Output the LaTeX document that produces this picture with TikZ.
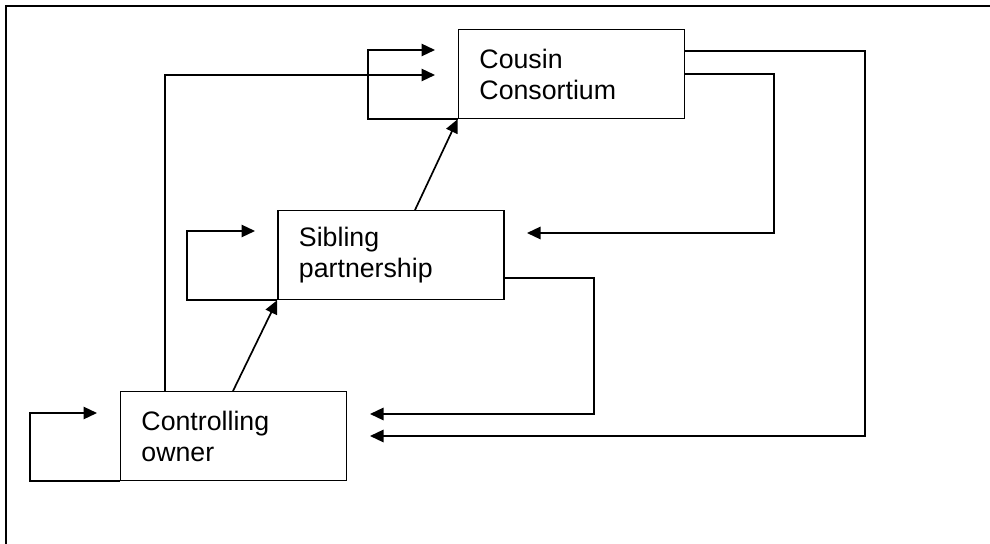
\documentclass[tikz,border=0pt]{standalone}
\usepackage{fontspec}
\setmainfont{Liberation Sans}
\usetikzlibrary{positioning,arrows.meta,calc}
\tikzset{
  flow/.style={-{Triangle[length=9.6pt,width=8.8pt]},line width=1.2pt,draw=black},
  line/.style={line width=1.2pt,draw=black},
  box/.style={draw=black,line width=1.2pt,minimum width=5.65cm,minimum height=2.22cm,
    text width=4.6cm,inner xsep=0.5cm,align=left,font=\fontsize{19pt}{22pt}\selectfont}
}
\begin{document}
\begin{tikzpicture}[x=0.025cm,y=-0.025cm]
  \useasboundingbox (0,0) rectangle (990,544);
  % frame
  \draw[line] (990,6) -- (6,6) -- (6,544);
  % the three stages
  \node[box] (cousin) at (571.5,74) {Cousin\\Consortium};
  \node[box] (sibling) at (391,255) {Sibling\\partnership};
  \node[box] (owner) at (233.5,436) {Controlling\\owner};
  % free arrow ends
  \coordinate (cin1) at (435,50);
  \coordinate (cin2) at (435,75);
  \coordinate (sin) at (527,233);
  \coordinate (sloop) at (255,231);
  \coordinate (oin1) at (370,414);
  \coordinate (oin2) at (370,436);
  \coordinate (oloop) at (97,413);
  % self loops
  \draw[flow] (cousin.south west) -| (368,50) -- (cin1);
  \draw[flow] (sibling.south west) -| (187,231) -- (sloop);
  \draw[flow] (owner.south west) -| (30,413) -- (oloop);
  % upward steps
  \draw[flow] (233,391) -- (sibling.south west);
  \draw[flow] (415,210) -- (cousin.south west);
  \draw[flow] (165,391) |- (cin2);
  % back to lower stages
  \draw[flow] (cousin.north east) ++(0,22) -| (865,436) -- (oin2);
  \draw[flow] (cousin.north east) ++(0,45) -| (774,233) -- (sin);
  \draw[flow] (sibling.north east) ++(0,68) -| (594,414) -- (oin1);
\end{tikzpicture}
\end{document}
